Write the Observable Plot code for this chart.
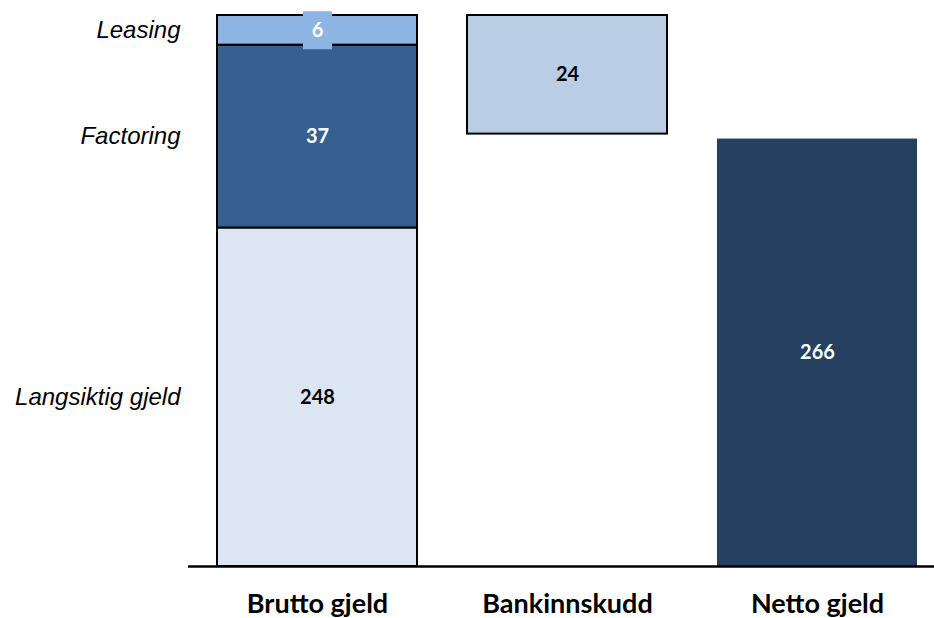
<!DOCTYPE html>
<html><head><meta charset="utf-8">
<script src="https://cdn.jsdelivr.net/npm/d3@7"></script>
<script src="https://cdn.jsdelivr.net/npm/@observablehq/plot@0.6"></script>
<style>body{margin:0;background:#fff}</style>
</head><body><div id="chart"></div>
<script>
// ---- data ----
const categories = ["Brutto gjeld", "Bankinnskudd", "Netto gjeld"];
const bruttoParts = ["Langsiktig gjeld", "Factoring", "Leasing"];
const bruttoValues = [248, 37, 6];
const bankinnskudd = 24;
const nettoGjeld = 266;
const yStart = 179.5; // value axis is truncated (does not start at zero)

// ---- styles ----
const segColors = ["#dce6f2", "#376092", "#8eb4e3"];
const segLabelColors = ["#000000", "#ffffff", "#ffffff"];
const bankColor = "#b9cde5";
const nettoColor = "#264061";

let acc = 0;
const segments = bruttoParts.map((name, i) => {
  const y1 = acc; acc += bruttoValues[i];
  return {cat: categories[0], name, value: bruttoValues[i], y1, y2: acc, fill: segColors[i], color: segLabelColors[i]};
});
const total = acc;
const bank = {cat: categories[1], value: bankinnskudd, y1: total - bankinnskudd, y2: total, fill: bankColor, color: "#000000"};
const netto = {cat: categories[2], value: nettoGjeld, y1: 0, y2: nettoGjeld, fill: nettoColor, color: "#ffffff"};
const stroked = [...segments, bank];
const all = [...segments, bank, netto];
const mid = d => (Math.max(d.y1, yStart) + d.y2) / 2;

// rectangular label background symbol
const labelBox = {draw(ctx) { ctx.rect(-14.5, -19, 29, 38); }};

const chart = Plot.plot({
  width: 934, height: 618,
  marginLeft: 188, marginRight: 0, marginTop: 15, marginBottom: 52,
  style: {fontFamily: "Lato, 'Open Sans', sans-serif", background: "#fff", color: "#000"},
  x: {domain: categories, paddingInner: 0.2, paddingOuter: 0.09, align: 0.62, label: null},
  y: {domain: [yStart, total], clamp: true, axis: null},
  color: {type: "identity"},
  marks: [
    Plot.barY(stroked, {x: "cat", y1: "y1", y2: "y2", fill: "fill", stroke: "#000", strokeWidth: 2}),
    Plot.barY([netto], {x: "cat", y1: "y1", y2: "y2", fill: "fill"}),
    Plot.dot([segments[2]], {x: "cat", y: mid, symbol: labelBox, r: 10, fill: segColors[2]}),
    Plot.text(all, {x: "cat", y: mid, text: d => String(d.value), fill: "color", fontWeight: "bold", fontSize: 20}),
    Plot.text(segments, {y: mid, text: "name", frameAnchor: "left", textAnchor: "end", dx: -8,
      fontStyle: "italic", fontFamily: "'Liberation Sans', Arial, sans-serif", fontSize: 24, fill: "#000"}),
    Plot.ruleY([yStart], {stroke: "#000", strokeWidth: 2.5}),
    Plot.axisX({tickSize: 0, tickPadding: 27, fontSize: 27, fontWeight: "bold", label: null})
  ]
});
document.getElementById("chart").appendChild(chart);
</script>
</body></html>
